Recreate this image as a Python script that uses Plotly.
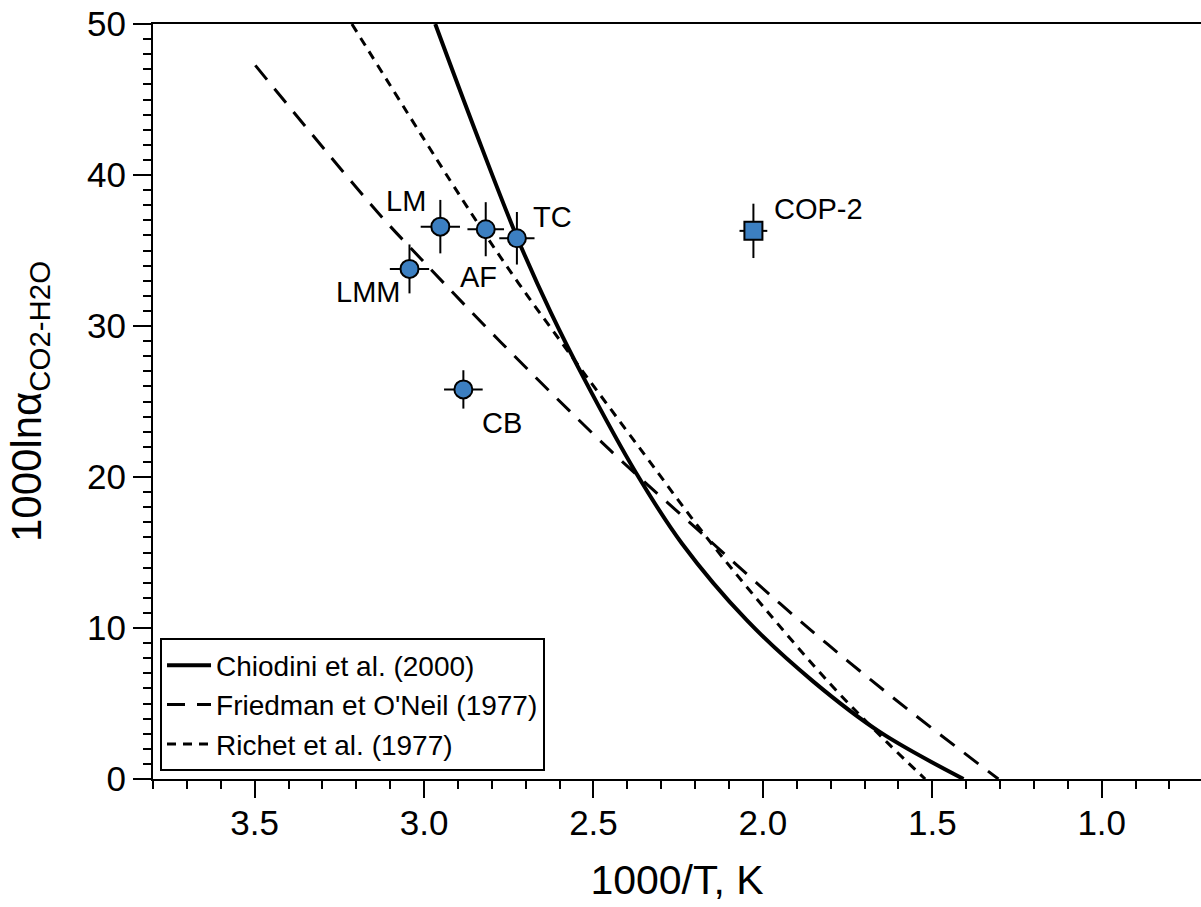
import plotly.graph_objects as go

# ---------------- data ----------------
# sample points (1000/T, 1000 ln alpha) with error bars
circle_names = ["LM", "AF", "TC", "LMM", "CB"]
circle_x = [2.952, 2.818, 2.726, 3.043, 2.884]
circle_y = [36.58, 36.41, 35.81, 33.78, 25.80]
circle_xerr = [0.058, 0.054, 0.052, 0.058, 0.057]
circle_yerr = [1.77, 1.79, 1.74, 1.62, 1.27]

square_names = ["COP-2"]
square_x = [2.028]
square_y = [36.30]
square_xerr = [0.041]
square_yerr = [1.80]

# fractionation curves
chiodini_x = [2.967, 2.85, 2.726, 2.625, 2.525, 2.375, 2.239, 2.047, 1.851, 1.654, 1.408]
chiodini_y = [50.0, 43.0, 35.9, 30.85, 26.4, 20.3, 15.6, 10.5, 6.45, 3.1, 0.0]

friedman_x = [3.498, 3.139, 3.011, 2.775, 2.451, 2.185, 1.949, 1.752, 1.556, 1.305]
friedman_y = [47.26, 37.58, 34.49, 28.96, 21.78, 16.36, 11.61, 7.86, 4.32, 0.0]

richet_x = [3.213, 2.864, 2.721, 2.578, 2.352, 2.175, 1.998, 1.802, 1.634, 1.521]
richet_y = [50.0, 37.58, 32.83, 28.41, 21.56, 16.26, 11.39, 6.31, 2.44, 0.0]

curve_names = ["Chiodini et al. (2000)", "Friedman et O'Neil (1977)", "Richet et al. (1977)"]

x_tick_vals = [3.5, 3.0, 2.5, 2.0, 1.5, 1.0]
y_tick_vals = [0, 10, 20, 30, 40, 50]

# ---------------- styles ----------------
FONT = "Liberation Sans, Arial, Helvetica, sans-serif"
BLUE = "#3c7fc1"
label_offsets = {  # pixel offsets of sample labels from their points
    "LM": (-34, 26), "AF": (-7, -48), "TC": (36, 21),
    "LMM": (-41, -23), "CB": (39, -34), "COP-2": (65, 22),
}

fig = go.Figure()

fig.add_trace(go.Scatter(x=chiodini_x, y=chiodini_y, mode="lines", name=curve_names[0],
                         line=dict(color="black", width=4, shape="spline", smoothing=1.0)))
fig.add_trace(go.Scatter(x=friedman_x, y=friedman_y, mode="lines", name=curve_names[1],
                         line=dict(color="black", width=3, dash="18px,12px", shape="spline", smoothing=1.0)))
fig.add_trace(go.Scatter(x=richet_x, y=richet_y, mode="lines", name=curve_names[2],
                         line=dict(color="black", width=3, dash="9px,7px", shape="spline", smoothing=1.0)))

err_style = dict(type="data", width=0, thickness=2, color="black")
fig.add_trace(go.Scatter(
    x=circle_x, y=circle_y, mode="markers", showlegend=False,
    error_x=dict(array=circle_xerr, **err_style), error_y=dict(array=circle_yerr, **err_style),
    marker=dict(symbol="circle", size=18, color=BLUE, line=dict(color="black", width=2))))
fig.add_trace(go.Scatter(
    x=square_x, y=square_y, mode="markers", showlegend=False,
    error_x=dict(array=square_xerr, **err_style), error_y=dict(array=square_yerr, **err_style),
    marker=dict(symbol="square", size=18, color=BLUE, line=dict(color="black", width=2))))

for names, xs, ys in [(circle_names, circle_x, circle_y), (square_names, square_x, square_y)]:
    for n, xv, yv in zip(names, xs, ys):
        dx, dy = label_offsets[n]
        fig.add_annotation(x=xv, y=yv, text=n, showarrow=False, xshift=dx, yshift=dy,
                           font=dict(family=FONT, size=29, color="black"))

axis_common = dict(showgrid=False, zeroline=False, showline=True, linewidth=2, linecolor="black",
                   ticks="outside", tickwidth=2, tickcolor="black",
                   tickfont=dict(family=FONT, size=35, color="black"))

fig.update_xaxes(range=[3.8, 0.707], tickvals=x_tick_vals, tickformat=".1f", ticklen=17,
                 mirror=True, ticklabelstandoff=-5,
                 minor=dict(dtick=0.1, tick0=0, ticks="outside", ticklen=8, tickwidth=2,
                            tickcolor="black", showgrid=False),
                 title=dict(text="1000/T, K", font=dict(family=FONT, size=41, color="black"), standoff=24),
                 **axis_common)
fig.update_yaxes(range=[0, 50], tickvals=y_tick_vals, ticklen=18, mirror=False,
                 minor=dict(dtick=1, tick0=0, ticks="outside", ticklen=8, tickwidth=2,
                            tickcolor="black", showgrid=False),
                 title=dict(text="1000lnα<sub>CO2-H2O</sub>", font=dict(family=FONT, size=42, color="black"),
                            standoff=32),
                 **axis_common)

fig.update_layout(
    width=1201, height=907,
    margin=dict(l=153, r=0, t=24, b=128),
    plot_bgcolor="white", paper_bgcolor="white",
    font=dict(family=FONT, color="black"),
    legend=dict(x=0.0067, y=0.01, xanchor="left", yanchor="bottom",
                bgcolor="white", bordercolor="black", borderwidth=2,
                font=dict(family=FONT, size=28, color="black"),
                tracegroupgap=0, itemwidth=44),
)

fig.write_html("out.html")
